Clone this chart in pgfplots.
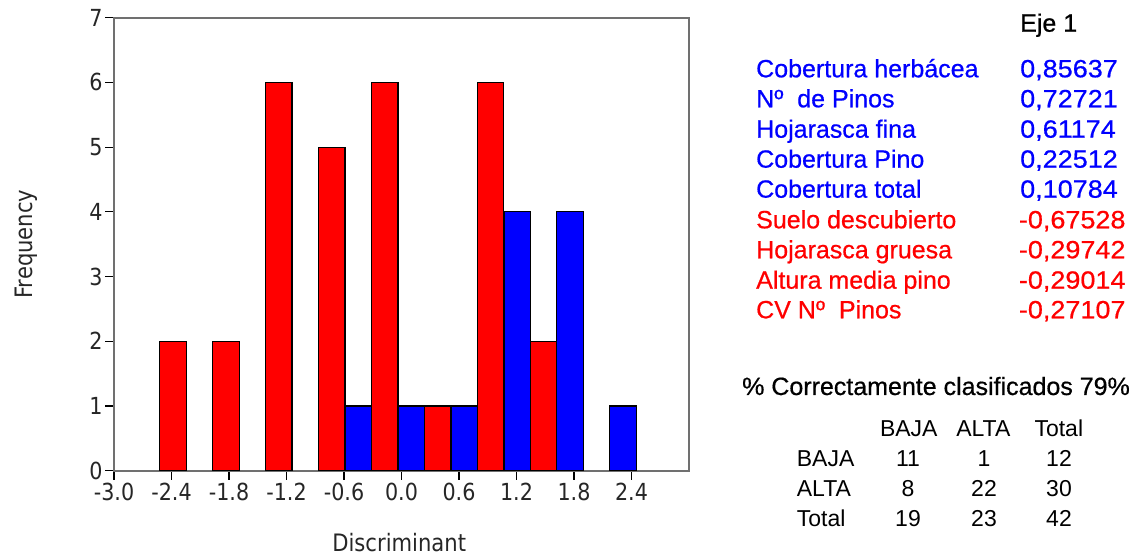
\documentclass[border=0pt]{standalone}
\usepackage{pgfplots}
\pgfplotsset{compat=1.18}
\usepackage{fontspec}
\setmainfont{Liberation Sans}
\newfontfamily\axfont[FakeStretch=0.88]{DejaVu Sans}
\newfontfamily\rtfont[FakeBold=0.6]{Liberation Sans}
\newfontfamily\valfont[FakeStretch=1.08,FakeBold=0.6]{Liberation Sans}
\definecolor{axgray}{RGB}{112,112,112}
\definecolor{myblue}{RGB}{0,0,255}
\definecolor{myred}{RGB}{255,0,0}
\begin{document}
\begin{tikzpicture}[x=1bp,y=1bp]
\path (0,0) rectangle (1141,558);
\begin{axis}[
  at={(114bp,87.3bp)}, anchor=south west,
  scale only axis, width=575bp, height=453bp,
  xmin=-3, xmax=3, ymin=0, ymax=7,
  axis line style={axgray, line width=2bp},
  xtick={-3,-2.4,-1.8,-1.2,-0.6,0,0.6,1.2,1.8,2.4},
  xticklabels={-3.0,-2.4,-1.8,-1.2,-0.6,0.0,0.6,1.2,1.8,2.4},
  ytick={0,1,2,3,4,5,6,7},
  yticklabels={0,1,2,3,4,5,6,7},
  xtick pos=bottom, ytick pos=left,
  tick align=outside, major tick length=9bp,
  tick style={black, line width=1.2bp},
  ticklabel style={font=\axfont\fontsize{23.5bp}{26bp}\selectfont, text=black!85},
  xticklabel style={yshift=0bp},
  yticklabel style={xshift=1bp},
  xlabel={Discriminant}, ylabel={Frequency},
  label style={font=\axfont\fontsize{24bp}{27bp}\selectfont, text=black!85},
  xlabel style={at={(axis description cs:0.496,-0.159)}, anchor=center},
  ylabel style={at={(axis description cs:-0.152,0.5)}, anchor=center},
]
\addplot[ybar, bar width=0.276, bar shift=0pt, fill=myred, draw=black, line width=1.2bp]
  coordinates {(-2.385,2) (-1.8325,2) (-1.28,6) (-0.7275,5) (-0.175,6) (0.3775,1) (0.93,6) (1.4825,2)};
\addplot[ybar, bar width=0.276, bar shift=0pt, fill=myblue, draw=black, line width=1.2bp]
  coordinates {(-0.451,1) (0.1015,1) (0.654,1) (1.2065,4) (1.759,4) (2.3115,1)};
\end{axis}
% right-hand text
\begin{scope}[every node/.style={inner sep=0pt, font=\rtfont\fontsize{25bp}{30bp}\selectfont}]
\node[anchor=base west, text=black] at (1020,526.3) {Eje 1};
\node[anchor=base west, text=myblue] at (756,480.7) {Cobertura herbácea};
\node[anchor=base west, text=myblue] at (756,450.7) {Nº\ \ de Pinos};
\node[anchor=base west, text=myblue] at (756,420.3) {Hojarasca fina};
\node[anchor=base west, text=myblue] at (756,390.3) {Cobertura Pino};
\node[anchor=base west, text=myblue] at (756,360.3) {Cobertura total};
\node[anchor=base west, text=myred] at (756,329.7) {Suelo descubierto};
\node[anchor=base west, text=myred] at (756,299.7) {Hojarasca gruesa};
\node[anchor=base west, text=myred] at (756,269.3) {Altura media pino};
\node[anchor=base west, text=myred] at (756,239.7) {CV Nº\ \ Pinos};
\end{scope}
\begin{scope}[every node/.style={inner sep=0pt, font=\valfont\fontsize{25bp}{30bp}\selectfont}]
\node[anchor=base west, text=myblue] at (1020,480.7) {0,85637};
\node[anchor=base west, text=myblue] at (1020,450.7) {0,72721};
\node[anchor=base west, text=myblue] at (1020,420.3) {0,61174};
\node[anchor=base west, text=myblue] at (1020,390.3) {0,22512};
\node[anchor=base west, text=myblue] at (1020,360.3) {0,10784};
\node[anchor=base west, text=myred] at (1018.7,329.7) {-0,67528};
\node[anchor=base west, text=myred] at (1018.7,299.7) {-0,29742};
\node[anchor=base west, text=myred] at (1018.7,269.3) {-0,29014};
\node[anchor=base west, text=myred] at (1018.7,239.7) {-0,27107};
\end{scope}
\node[inner sep=0pt, anchor=base west, text=black, font=\rtfont\fontsize{25bp}{30bp}\selectfont] at (742,163) {\% Correctamente clasificados 79\%};
\begin{scope}[every node/.style={inner sep=0pt, text=black, font=\fontsize{23bp}{27bp}\selectfont}]
\node[anchor=base] at (908.8,121.3) {BAJA};
\node[anchor=base] at (983.3,121.3) {ALTA};
\node[anchor=base] at (1058.8,121.3) {Total};
\node[anchor=base west] at (796.7,91.3) {BAJA};
\node[anchor=base west] at (796.7,61.3) {ALTA};
\node[anchor=base west] at (796.7,31.3) {Total};
\node[anchor=base] at (908,91.3) {11};
\node[anchor=base] at (984,91.3) {1};
\node[anchor=base] at (1059,91.3) {12};
\node[anchor=base] at (908,61.3) {8};
\node[anchor=base] at (984,61.3) {22};
\node[anchor=base] at (1059,61.3) {30};
\node[anchor=base] at (908,31.3) {19};
\node[anchor=base] at (984,31.3) {23};
\node[anchor=base] at (1059,31.3) {42};
\end{scope}
\end{tikzpicture}
\end{document}
